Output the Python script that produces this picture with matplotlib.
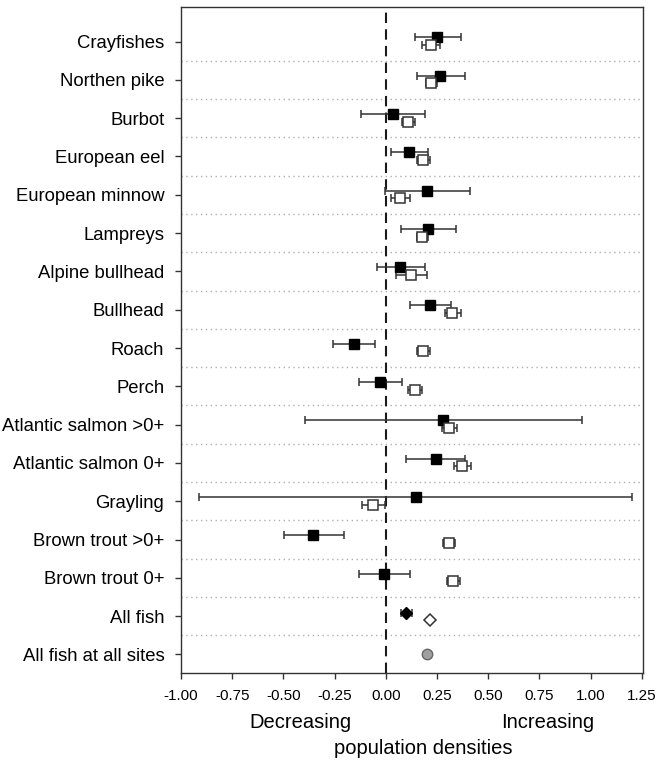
import numpy as np
import matplotlib.pyplot as plt

plt.rcParams['font.family'] = ['Liberation Sans', 'DejaVu Sans']

# rows, top to bottom
groups = ["Crayfishes", "Northen pike", "Burbot", "European eel", "European minnow",
          "Lampreys", "Alpine bullhead", "Bullhead", "Roach", "Perch",
          "Atlantic salmon >0+", "Atlantic salmon 0+", "Grayling", "Brown trout >0+",
          "Brown trout 0+", "All fish", "All fish at all sites"]

# filled markers (first estimate) with interval
filled_mean = [0.250, 0.267, 0.033, 0.114, 0.203, 0.207, 0.070, 0.218, -0.156, -0.028,
               0.280, 0.244, 0.146, -0.354, -0.007, 0.101]
filled_lo = [0.141, 0.150, -0.122, 0.026, -0.002, 0.072, -0.044, 0.117, -0.257, -0.132,
             -0.394, 0.101, -0.910, -0.499, -0.132, 0.076]
filled_hi = [0.366, 0.385, 0.190, 0.207, 0.413, 0.341, 0.189, 0.317, -0.054, 0.080,
             0.960, 0.389, 1.200, -0.203, 0.119, 0.130]

# open markers (second estimate) with interval
open_mean = [0.220, 0.223, 0.109, 0.182, 0.068, 0.177, 0.125, 0.325, 0.184, 0.143,
             0.307, 0.372, -0.062, 0.307, 0.328, 0.218]
open_lo = [0.177, 0.194, 0.080, 0.151, 0.023, 0.150, 0.049, 0.288, 0.150, 0.109,
           0.272, 0.332, -0.114, 0.280, 0.301, 0.218]
open_hi = [0.263, 0.252, 0.143, 0.218, 0.119, 0.207, 0.203, 0.366, 0.218, 0.179,
           0.350, 0.418, -0.002, 0.338, 0.361, 0.218]

all_sites = 0.203

xticks = [-1.00, -0.75, -0.50, -0.25, 0.00, 0.25, 0.50, 0.75, 1.00, 1.25]

fig = plt.figure(figsize=(6.58, 7.63), dpi=100)
ax = fig.add_axes([0.275, 0.1184, 0.702, 0.8726])

n = len(groups)
rows = np.arange(n)
line_col = '#333333'

# separators between rows
for i in range(n - 1):
    ax.axhline(i + 0.5, color='#b0b0b0', linestyle=(0, (1, 2.5)), linewidth=1.0, zorder=0)

ax.axvline(0, color='#1a1a1a', linestyle=(0, (5, 3)), linewidth=1.5, zorder=1)

fm = np.array(filled_mean)
om = np.array(open_mean)
fy = rows[:15] - 0.11
oy = rows[:15] + 0.09

ax.errorbar(fm[:15], fy, xerr=[fm[:15] - np.array(filled_lo[:15]), np.array(filled_hi[:15]) - fm[:15]],
            fmt='none', ecolor=line_col, elinewidth=1.1, capsize=3, capthick=1.1, zorder=2)
ax.plot(fm[:15], fy, 's', color='black', markersize=7.5, zorder=3)

ax.errorbar(om[:15], oy, xerr=[om[:15] - np.array(open_lo[:15]), np.array(open_hi[:15]) - om[:15]],
            fmt='none', ecolor=line_col, elinewidth=1.1, capsize=3, capthick=1.1, zorder=2)
ax.plot(om[:15], oy, 's', markerfacecolor='white', markeredgecolor=line_col,
        markeredgewidth=1.1, markersize=6.5, zorder=3)

# all fish: diamonds
ax.errorbar([fm[15]], [15 - 0.09], xerr=[[fm[15] - filled_lo[15]], [filled_hi[15] - fm[15]]],
            fmt='none', ecolor=line_col, elinewidth=1.1, capsize=3, capthick=1.1, zorder=2)
ax.plot([fm[15]], [15 - 0.09], 'D', color='black', markersize=6.5, zorder=3)
ax.plot([om[15]], [15 + 0.1], 'D', markerfacecolor='white', markeredgecolor=line_col,
        markeredgewidth=1.1, markersize=6.5, zorder=3)

# all fish at all sites
ax.plot([all_sites], [16], 'o', markerfacecolor='#a0a0a0', markeredgecolor='#666666',
        markeredgewidth=1.0, markersize=7.5, zorder=3)

ax.set_ylim(16.475, -0.906)
ax.set_yticks(rows)
ax.set_yticklabels(groups, fontsize=13.3)
ax.set_xlim(-1.0, 1.255)
ax.set_xticks(xticks)
ax.set_xticklabels([f"{v:.2f}" for v in xticks], fontsize=11)
ax.tick_params(axis='both', direction='out', length=4, width=1, color='#333333', pad=8)

for s in ax.spines.values():
    s.set_color('#333333')
    s.set_linewidth(1.0)

fig.text(300 / 658, 1 - 723 / 763, "Decreasing", fontsize=14.5, ha='center', va='center')
fig.text(548 / 658, 1 - 723 / 763, "Increasing", fontsize=14.5, ha='center', va='center')
fig.text(423 / 658, 1 - 748 / 763, "population densities", fontsize=14.5, ha='center', va='center')

fig.savefig("out.png", dpi=100)
